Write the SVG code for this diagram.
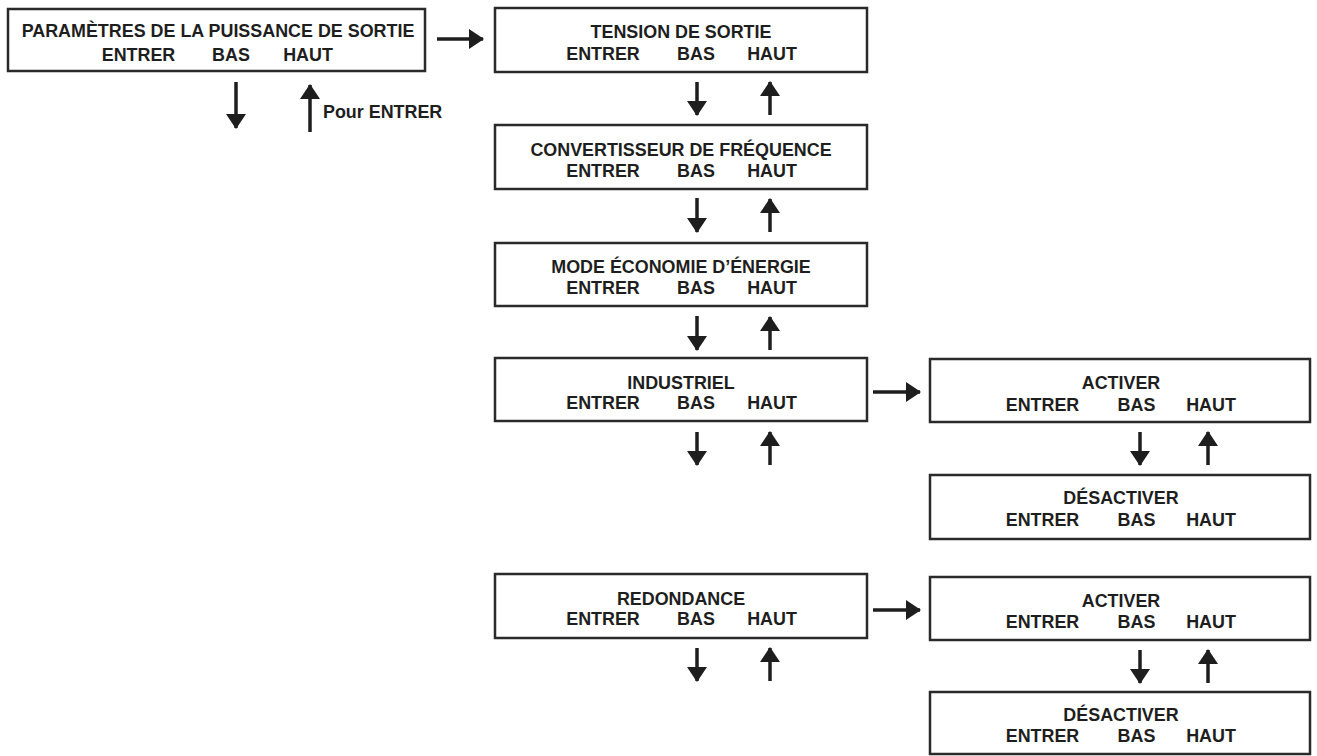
<svg xmlns="http://www.w3.org/2000/svg" width="1317" height="756" viewBox="0 0 1317 756">
<style>
.box{fill:#fff;stroke:#2a2a2a;stroke-width:2.5}
text{font-family:"Liberation Sans",Arial,sans-serif;font-weight:bold;font-size:17.9px;fill:#1e1e1e}
.m{text-anchor:middle}
.c line{stroke:#1e1e1e;stroke-width:3.5;marker-end:url(#ah)}
</style>
<defs>
<marker id="ah" markerUnits="userSpaceOnUse" markerWidth="15" markerHeight="20" viewBox="0 0 15 20" refX="14" refY="10" orient="auto">
<path d="M0,0 L15,10 L0,20 Z" fill="#1e1e1e"/>
</marker>
</defs>
<rect width="1317" height="756" fill="#fff"/>
<g id="n0">
<rect class="box" x="8" y="9" width="417" height="62"/>
<text class="m" x="218" y="37">PARAMÈTRES DE LA PUISSANCE DE SORTIE</text>
<text class="m" x="138.5" y="61">ENTRER</text><text class="m" x="231" y="61">BAS</text><text class="m" x="308" y="61">HAUT</text>
</g>
<g id="n1">
<rect class="box" x="495" y="8" width="372" height="64"/>
<text class="m" x="681" y="38">TENSION DE SORTIE</text>
<text class="m" x="603" y="60">ENTRER</text><text class="m" x="696" y="60">BAS</text><text class="m" x="772" y="60">HAUT</text>
</g>
<g id="n2">
<rect class="box" x="495" y="125" width="372" height="64"/>
<text class="m" x="681" y="156">CONVERTISSEUR DE FRÉQUENCE</text>
<text class="m" x="603" y="177">ENTRER</text><text class="m" x="696" y="177">BAS</text><text class="m" x="772" y="177">HAUT</text>
</g>
<g id="n3">
<rect class="box" x="495" y="243" width="372" height="63"/>
<text class="m" x="681" y="273">MODE ÉCONOMIE D’ÉNERGIE</text>
<text class="m" x="603" y="294">ENTRER</text><text class="m" x="696" y="294">BAS</text><text class="m" x="772" y="294">HAUT</text>
</g>
<g id="n4">
<rect class="box" x="495" y="358" width="372" height="63"/>
<text class="m" x="681" y="389">INDUSTRIEL</text>
<text class="m" x="603" y="409">ENTRER</text><text class="m" x="696" y="409">BAS</text><text class="m" x="772" y="409">HAUT</text>
</g>
<g id="n5">
<rect class="box" x="495" y="574" width="372" height="64"/>
<text class="m" x="681" y="605">REDONDANCE</text>
<text class="m" x="603" y="625">ENTRER</text><text class="m" x="696" y="625">BAS</text><text class="m" x="772" y="625">HAUT</text>
</g>
<g id="n6">
<rect class="box" x="930" y="359" width="380" height="63"/>
<text class="m" x="1121" y="389">ACTIVER</text>
<text class="m" x="1042.5" y="411">ENTRER</text><text class="m" x="1136.5" y="411">BAS</text><text class="m" x="1211" y="411">HAUT</text>
</g>
<g id="n7">
<rect class="box" x="930" y="475" width="380" height="64"/>
<text class="m" x="1121" y="504">DÉSACTIVER</text>
<text class="m" x="1042.5" y="526">ENTRER</text><text class="m" x="1136.5" y="526">BAS</text><text class="m" x="1211" y="526">HAUT</text>
</g>
<g id="n8">
<rect class="box" x="930" y="577" width="380" height="63"/>
<text class="m" x="1121" y="607">ACTIVER</text>
<text class="m" x="1042.5" y="628">ENTRER</text><text class="m" x="1136.5" y="628">BAS</text><text class="m" x="1211" y="628">HAUT</text>
</g>
<g id="n9">
<rect class="box" x="930" y="692" width="380" height="62"/>
<text class="m" x="1121" y="721">DÉSACTIVER</text>
<text class="m" x="1042.5" y="742">ENTRER</text><text class="m" x="1136.5" y="742">BAS</text><text class="m" x="1211" y="742">HAUT</text>
</g>
<g id="connectors" class="c">
<line x1="437" y1="39" x2="483" y2="39"/>
<line x1="236" y1="82" x2="236" y2="128"/>
<line x1="310" y1="132" x2="310" y2="85"/>
<line x1="697" y1="82" x2="697" y2="115"/>
<line x1="770" y1="115" x2="770" y2="82"/>
<line x1="697" y1="198" x2="697" y2="232"/>
<line x1="770" y1="232" x2="770" y2="199"/>
<line x1="697" y1="316" x2="697" y2="350"/>
<line x1="770" y1="350" x2="770" y2="317"/>
<line x1="697" y1="432" x2="697" y2="465"/>
<line x1="770" y1="465" x2="770" y2="432"/>
<line x1="697" y1="648" x2="697" y2="681"/>
<line x1="770" y1="681" x2="770" y2="648"/>
<line x1="873" y1="392" x2="920" y2="392"/>
<line x1="873" y1="610" x2="920" y2="610"/>
<line x1="1140" y1="432" x2="1140" y2="465"/>
<line x1="1208" y1="465" x2="1208" y2="432"/>
<line x1="1140" y1="650" x2="1140" y2="683"/>
<line x1="1208" y1="683" x2="1208" y2="650"/>
</g>
<text x="323" y="118">Pour ENTRER</text>
</svg>
